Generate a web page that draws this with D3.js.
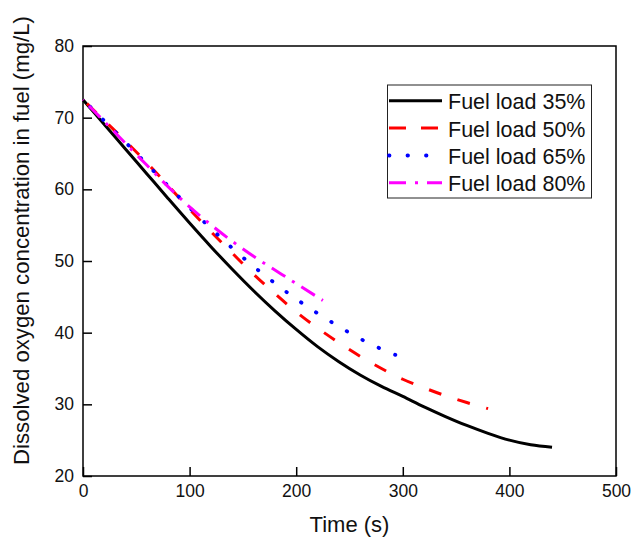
<!DOCTYPE html>
<html>
<head>
<meta charset="utf-8">
<script src="https://cdn.jsdelivr.net/npm/d3@7"></script>
<style>
  html, body { margin: 0; padding: 0; background: #fff; }
  svg { display: block; font-family: "Liberation Sans", Arial, sans-serif; }
</style>
</head>
<body>
<svg id="chart" width="633" height="539"></svg>
<script>
// ---- data ----
const seriesNames = ["Fuel load 35%", "Fuel load 50%", "Fuel load 65%", "Fuel load 80%"];

const time35 = [0, 20, 40, 60, 80, 100, 120, 140, 160, 180, 200, 220, 240, 260, 280, 300, 320, 340, 360, 380, 400, 420, 440];
const do35   = [72.5, 69.05, 65.6, 62.15, 58.7, 55.3, 52.0, 48.85, 45.85, 43.05, 40.45, 38.05, 35.95, 34.1, 32.5, 31.1, 29.65, 28.3, 27.05, 25.95, 25.0, 24.35, 24.0];

const time50 = [0, 20, 40, 60, 80, 100, 120, 140, 160, 180, 200, 220, 240, 260, 280, 300, 320, 340, 360, 380];
const do50   = [72.5, 69.6, 66.7, 63.7, 60.5, 57.2, 54.1, 51.1, 48.15, 45.45, 42.9, 40.65, 38.6, 36.7, 35.0, 33.5, 32.3, 31.2, 30.25, 29.4];

const time65 = [0, 20, 40, 60, 80, 100, 120, 140, 160, 180, 200, 220, 240, 260, 280, 293];
const do65   = [72.5, 69.55, 66.55, 63.5, 60.45, 57.45, 54.55, 51.8, 49.25, 46.9, 44.7, 42.7, 40.85, 39.15, 37.7, 36.9];

const time80 = [0, 20, 40, 60, 80, 100, 120, 140, 160, 180, 200, 225];
const do80   = [72.5, 69.45, 66.4, 63.35, 60.35, 57.55, 55.05, 52.75, 50.65, 48.75, 46.85, 44.5];

const xTicks = [0, 100, 200, 300, 400, 500];
const yTicks = [20, 30, 40, 50, 60, 70, 80];
const xTitle = "Time (s)";
const yTitle = "Dissolved oxygen concentration in fuel (mg/L)";

// ---- styles ----
const colors = ["#000000", "#ff0000", "#0000ff", "#ff00ff"];
const dashes = [null, [13, 17], [0.5, 17.5], [16, 8, 3, 8]];
const endPos = [0, 2, 0.25, 25.5];   // where in the dash pattern each curve ends
const legendDashes = ["none", "17,15", "0.5,18", "17,9,3,9"];
const caps = ["butt", "butt", "round", "butt"];

const svg = d3.select("#chart");
const margin = { left: 83, right: 17, top: 46, bottom: 63 };
const W = 633, H = 539;
const iw = W - margin.left - margin.right;
const ih = H - margin.top - margin.bottom;

const x = d3.scaleLinear().domain([0, 500]).range([margin.left, margin.left + iw]);
const y = d3.scaleLinear().domain([20, 80]).range([margin.top + ih, margin.top]);

const g = svg.append("g");

// axes
const xAxis = d3.axisBottom(x).tickValues(xTicks).tickSizeInner(-9).tickSizeOuter(0).tickPadding(9);
const yAxis = d3.axisLeft(y).tickValues(yTicks).tickSizeInner(-9).tickSizeOuter(0).tickPadding(9);

const gx = g.append("g").attr("transform", `translate(0,${margin.top + ih})`).call(xAxis);
const gy = g.append("g").attr("transform", `translate(${margin.left},0)`).call(yAxis);
[gx, gy].forEach(a => {
  a.select(".domain").remove();
  a.selectAll(".tick line").attr("stroke", "#000").attr("stroke-width", 1.5);
  a.selectAll(".tick text").attr("fill", "#111").style("font-size", "17.5px").style("font-family", "'Liberation Sans', Arial, sans-serif");
});

// frame
g.append("rect")
  .attr("x", margin.left).attr("y", margin.top)
  .attr("width", iw).attr("height", ih)
  .attr("fill", "none").attr("stroke", "#000").attr("stroke-width", 1.5);

// lines
const allSeries = [
  { t: time35, v: do35 },
  { t: time50, v: do50 },
  { t: time65, v: do65 },
  { t: time80, v: do80 }
];
const line = d3.line().x(d => x(d[0])).y(d => y(d[1])).curve(d3.curveMonotoneX);

allSeries.forEach((s, i) => {
  const pts = s.t.map((t, j) => [t, s.v[j]]);
  const p = g.append("path")
    .datum(pts)
    .attr("d", line)
    .attr("fill", "none")
    .attr("stroke", colors[i])
    .attr("stroke-width", i === 2 ? 3.8 : 3)
    .attr("stroke-linecap", caps[i]);
  if (dashes[i]) {
    const period = d3.sum(dashes[i]);
    const L = p.node().getTotalLength();
    const off = ((endPos[i] - (L % period)) % period + period) % period;
    p.attr("stroke-dasharray", dashes[i].join(","))
     .attr("stroke-dashoffset", off);
  }
});

// axis titles
svg.append("text")
  .attr("x", x(250)).attr("y", 532)
  .attr("text-anchor", "middle")
  .style("font-size", "22px").attr("fill", "#111")
  .text(xTitle);

svg.append("text")
  .attr("transform", `translate(29,240.5) rotate(-90)`)
  .attr("text-anchor", "middle")
  .style("font-size", "22.2px").attr("fill", "#111")
  .text(yTitle);

// legend
const lg = svg.append("g");
lg.append("rect")
  .attr("x", 387.5).attr("y", 85)
  .attr("width", 204).attr("height", 113)
  .attr("fill", "#fff").attr("stroke", "#222").attr("stroke-width", 1);
const rowY = [100.7, 128.1, 155.5, 182.7];
seriesNames.forEach((name, i) => {
  lg.append("line")
    .attr("x1", 389).attr("x2", 442)
    .attr("y1", rowY[i]).attr("y2", rowY[i])
    .attr("stroke", colors[i])
    .attr("stroke-width", i === 2 ? 3.8 : 3)
    .attr("stroke-linecap", caps[i])
    .attr("stroke-dasharray", legendDashes[i]);
  lg.append("text")
    .attr("x", 448).attr("y", rowY[i] + 8.5)
    .style("font-size", "21.5px").attr("fill", "#111")
    .text(name);
});
</script>
</body>
</html>
